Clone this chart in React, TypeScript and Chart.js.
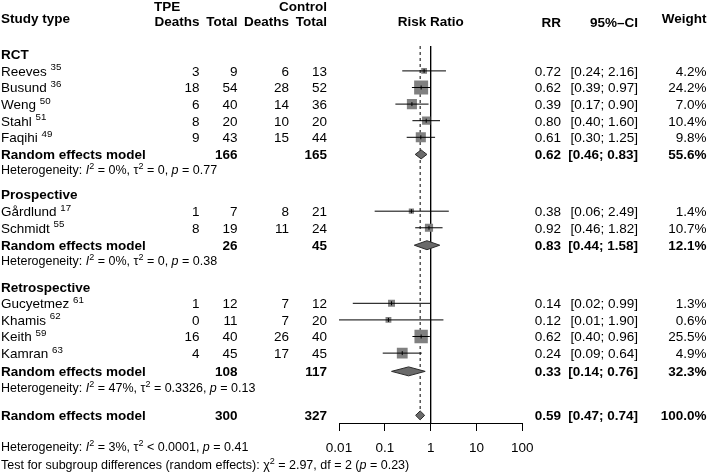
import React, { useEffect, useRef } from "react";
import { Chart, registerables } from "chart.js";
Chart.register(...registerables);

// ---------------- DATA ----------------
const studyNames = ["Reeves", "Busund", "Weng", "Stahl", "Faqihi", "Gårdlund", "Schmidt", "Gucyetmez", "Khamis", "Keith", "Kamran"];
const studyRefs = ["35", "36", "50", "51", "49", "17", "55", "61", "62", "59", "63"];
const tpeDeaths = [3, 18, 6, 8, 9, 1, 8, 1, 0, 16, 4];
const tpeTotal = [9, 54, 40, 20, 43, 7, 19, 12, 11, 40, 45];
const ctrlDeaths = [6, 28, 14, 10, 15, 8, 11, 7, 7, 26, 17];
const ctrlTotal = [13, 52, 36, 20, 44, 21, 24, 12, 20, 40, 45];
const studyRR = [0.72, 0.62, 0.39, 0.8, 0.61, 0.38, 0.92, 0.14, 0.12, 0.62, 0.24];
const studyLower = [0.24, 0.39, 0.17, 0.4, 0.3, 0.06, 0.46, 0.02, 0.01, 0.4, 0.09];
const studyUpper = [2.16, 0.97, 0.9, 1.6, 1.25, 2.49, 1.82, 0.99, 1.9, 0.96, 0.64];
const studyWeight = [4.2, 24.2, 7.0, 10.4, 9.8, 1.4, 10.7, 1.3, 0.6, 25.5, 4.9];

const groupNames = ["RCT", "Prospective", "Retrospective"];
const groupTpeTotal = [166, 26, 108];
const groupCtrlTotal = [165, 45, 117];
const groupRR = [0.62, 0.83, 0.33];
const groupLower = [0.46, 0.44, 0.14];
const groupUpper = [0.83, 1.58, 0.76];
const groupWeight = [55.6, 12.1, 32.3];
const groupI2 = ["0%", "0%", "47%"];
const groupTau2 = ["= 0", "= 0", "= 0.3326"];
const groupP = ["0.77", "0.38", "0.13"];

const overallTpeTotal = 300;
const overallCtrlTotal = 327;
const overallRR = 0.59;
const overallLower = 0.47;
const overallUpper = 0.74;
const overallWeight = 100.0;
const overallI2 = "3%";
const overallTau2 = "< 0.0001";
const overallP = "0.41";
const testChi2 = "2.97";
const testDf = "2";
const testP = "0.23";

const axisTicks = [0.01, 0.1, 1, 10, 100];
const axisTickLabels = ["0.01", "0.1", "1", "10", "100"];

// ---------------- LAYOUT (row units) ----------------
const Y_MIN = -0.5;
const Y_MAX = 22.21;
const groupLabelRow = [0, 8.45, 14];
const studyRow = [1, 2, 3, 4, 5, 9.45, 10.45, 15, 16, 17, 18];
const groupModelRow = [6.03, 11.5, 19.1];
const groupHetRow = [6.92, 12.45, 20.05];
const overallRow = 21.75;
const overallHetRow = 23.65;
const testRow = 24.72;
const headerTopRow = -2.9;
const headerBottomRow = -2.0;
const headerMidRow = -2.15;
const DIAMOND_HALF = 0.27;
const MAX_SQUARE = 14;

const COL_LABEL = 1;
const COL_TPE_D = 199.5;
const COL_TPE_T = 237.5;
const COL_CTL_D = 289;
const COL_CTL_T = 327;
const COL_RR = 561;
const COL_CI = 638;
const COL_W = 706.5;
const FONT_MAIN = 13.5;
const FONT_HET = 12.5;
const FAMILY = '"Liberation Sans", Arial, Helvetica, sans-serif';

const SQUARE_COLOR = "#808080";
const DIAMOND_COLOR = "#6a6a6a";

function fontStr(size: number, bold?: boolean, italic?: boolean) {
  return `${italic ? "italic " : ""}${bold ? "bold " : ""}${size}px ${FAMILY}`;
}

type Seg = { t: string; i?: boolean; b?: boolean; sup?: boolean };

function drawRich(ctx: CanvasRenderingContext2D, x: number, yc: number, segs: Seg[], size: number, align: "left" | "right" | "center" = "left") {
  ctx.textAlign = "left";
  ctx.textBaseline = "alphabetic";
  const widths = segs.map((s) => {
    ctx.font = fontStr(s.sup ? size * 0.72 : size, s.b, s.i);
    return ctx.measureText(s.t).width;
  });
  const total = widths.reduce((a, b) => a + b, 0);
  let cx = align === "left" ? x : align === "right" ? x - total : x - total / 2;
  const base = yc + size * 0.36;
  segs.forEach((s, k) => {
    ctx.font = fontStr(s.sup ? size * 0.72 : size, s.b, s.i);
    ctx.fillText(s.t, cx, s.sup ? base - size * 0.4 : base);
    cx += widths[k];
  });
}

const fmtCI = (lo: number, hi: number) => `[${lo.toFixed(2)}; ${hi.toFixed(2)}]`;

// Mantel-Haenszel (common effect) weights, used for the square sizes
const mhWeight = ctrlDeaths.map((c, i) => (c * tpeTotal[i]) / (tpeTotal[i] + ctrlTotal[i]));
const mhMax = Math.max(...mhWeight);

const textPlugin = {
  id: "forestText",
  afterDraw(chart: any) {
    const ctx: CanvasRenderingContext2D = chart.ctx;
    const ys = chart.scales.y;
    const py = (r: number) => ys.getPixelForValue(r);
    ctx.save();
    ctx.fillStyle = "#000";
    const t = (s: string, x: number, r: number, align: "left" | "right" | "center", bold = false, size = FONT_MAIN) =>
      drawRich(ctx, x, py(r), [{ t: s, b: bold }], size, align);

    // headers
    t("Study type", COL_LABEL, headerMidRow, "left", true);
    t("TPE", 154, headerTopRow, "left", true);
    t("Control", COL_CTL_T, headerTopRow, "right", true);
    t("Deaths", COL_TPE_D, headerBottomRow, "right", true);
    t("Total", COL_TPE_T, headerBottomRow, "right", true);
    t("Deaths", COL_CTL_D, headerBottomRow, "right", true);
    t("Total", COL_CTL_T, headerBottomRow, "right", true);
    const xs = chart.scales.x;
    t("Risk Ratio", (xs.left + xs.right) / 2, headerBottomRow, "center", true);
    t("RR", COL_RR, headerBottomRow + 0.05, "right", true);
    t("95%\u2013CI", COL_CI, headerBottomRow + 0.05, "right", true);
    t("Weight", COL_W, headerMidRow, "right", true);

    // groups
    groupNames.forEach((g, gi) => {
      t(g, COL_LABEL, groupLabelRow[gi], "left", true);
      const r = groupModelRow[gi];
      t("Random effects model", COL_LABEL, r, "left", true);
      t(String(groupTpeTotal[gi]), COL_TPE_T, r, "right", true);
      t(String(groupCtrlTotal[gi]), COL_CTL_T, r, "right", true);
      t(groupRR[gi].toFixed(2), COL_RR, r, "right", true);
      t(fmtCI(groupLower[gi], groupUpper[gi]), COL_CI, r, "right", true);
      t(groupWeight[gi].toFixed(1) + "%", COL_W, r, "right", true);
      drawRich(ctx, COL_LABEL, py(groupHetRow[gi]), [
        { t: "Heterogeneity: " },
        { t: "I", i: true },
        { t: "2", sup: true },
        { t: ` = ${groupI2[gi]}, \u03c4` },
        { t: "2", sup: true },
        { t: ` ${groupTau2[gi]}, ` },
        { t: "p", i: true },
        { t: ` = ${groupP[gi]}` },
      ], FONT_HET);
    });

    // studies
    studyNames.forEach((n, i) => {
      const r = studyRow[i];
      drawRich(ctx, COL_LABEL, py(r), [{ t: n + " " }, { t: studyRefs[i], sup: true }], FONT_MAIN);
      t(String(tpeDeaths[i]), COL_TPE_D, r, "right");
      t(String(tpeTotal[i]), COL_TPE_T, r, "right");
      t(String(ctrlDeaths[i]), COL_CTL_D, r, "right");
      t(String(ctrlTotal[i]), COL_CTL_T, r, "right");
      t(studyRR[i].toFixed(2), COL_RR, r, "right");
      t(fmtCI(studyLower[i], studyUpper[i]), COL_CI, r, "right");
      t(studyWeight[i].toFixed(1) + "%", COL_W, r, "right");
    });

    // overall
    t("Random effects model", COL_LABEL, overallRow, "left", true);
    t(String(overallTpeTotal), COL_TPE_T, overallRow, "right", true);
    t(String(overallCtrlTotal), COL_CTL_T, overallRow, "right", true);
    t(overallRR.toFixed(2), COL_RR, overallRow, "right", true);
    t(fmtCI(overallLower, overallUpper), COL_CI, overallRow, "right", true);
    t(overallWeight.toFixed(1) + "%", COL_W, overallRow, "right", true);
    drawRich(ctx, COL_LABEL, py(overallHetRow), [
      { t: "Heterogeneity: " },
      { t: "I", i: true },
      { t: "2", sup: true },
      { t: ` = ${overallI2}, \u03c4` },
      { t: "2", sup: true },
      { t: ` ${overallTau2}, ` },
      { t: "p", i: true },
      { t: ` = ${overallP}` },
    ], FONT_HET);
    drawRich(ctx, COL_LABEL, py(testRow), [
      { t: "Test for subgroup differences (random effects): \u03c7" },
      { t: "2", sup: true },
      { t: ` = ${testChi2}, df = ${testDf} (` },
      { t: "p", i: true },
      { t: ` = ${testP})` },
    ], FONT_HET);
    ctx.restore();
  },
};

export default function App() {
  const ref = useRef<HTMLCanvasElement>(null);
  useEffect(() => {
    const squares = studyRR.map((v, i) => ({ x: v, y: studyRow[i] }));
    const ciLines: any[] = [];
    studyRR.forEach((_, i) => {
      ciLines.push({ x: studyLower[i], y: studyRow[i] });
      ciLines.push({ x: studyUpper[i], y: studyRow[i] });
      ciLines.push({ x: 1, y: null });
    });
    const diamond = (lo: number, est: number, hi: number, r: number) => ({
      type: "scatter",
      data: [
        { x: lo, y: r },
        { x: est, y: r - DIAMOND_HALF },
        { x: hi, y: r },
        { x: est, y: r + DIAMOND_HALF },
        { x: lo, y: r },
      ],
      showLine: true,
      fill: "shape",
      backgroundColor: DIAMOND_COLOR,
      borderColor: "#2a2a2a",
      borderWidth: 1,
      pointRadius: 0,
      tension: 0,
      order: 2,
    });
    const diamonds = groupRR.map((v, gi) => diamond(groupLower[gi], v, groupUpper[gi], groupModelRow[gi]));
    diamonds.push(diamond(overallLower, overallRR, overallUpper, overallRow));

    const chart = new Chart(ref.current!, {
      type: "scatter",
      data: {
        datasets: [
          {
            data: [{ x: 1, y: Y_MIN }, { x: 1, y: Y_MAX }],
            showLine: true,
            borderColor: "#000",
            borderWidth: 1,
            pointRadius: 0,
            order: 6,
          },
          {
            data: [{ x: overallRR, y: Y_MIN }, { x: overallRR, y: overallRow - DIAMOND_HALF }],
            showLine: true,
            borderColor: "#000",
            borderWidth: 1,
            borderDash: [3, 3],
            pointRadius: 0,
            order: 5,
          },
          {
            data: squares,
            pointStyle: "rect",
            pointRadius: mhWeight.map((w) => (MAX_SQUARE * Math.sqrt(w / mhMax)) / Math.SQRT2),
            backgroundColor: SQUARE_COLOR,
            borderWidth: 0,
            order: 4,
          },
          {
            data: ciLines,
            showLine: true,
            spanGaps: false,
            borderColor: "#000",
            borderWidth: 1,
            pointRadius: 0,
            order: 3,
          },
          {
            data: squares,
            pointStyle: "line",
            rotation: 90,
            pointRadius: 2,
            borderColor: "#000",
            borderWidth: 1,
            order: 1,
          },
          ...diamonds,
        ] as any,
      },
      options: {
        responsive: false,
        devicePixelRatio: 1,
        animation: false,
        events: [],
        layout: { padding: { left: 339, right: 185.7, top: 46, bottom: 0 } },
        plugins: { legend: { display: false }, tooltip: { enabled: false } },
        scales: {
          x: {
            type: "logarithmic",
            min: 0.01,
            max: 100,
            position: "bottom",
            afterBuildTicks: (scale: any) => {
              scale.ticks = axisTicks.map((v) => ({ value: v }));
            },
            afterFit: (scale: any) => {
              scale.height = 50;
            },
            ticks: {
              autoSkip: false,
              maxRotation: 0,
              padding: 9,
              color: "#000",
              font: { size: FONT_MAIN, family: FAMILY },
              callback: (v: any) => {
                const k = axisTicks.indexOf(Number(v));
                return k >= 0 ? axisTickLabels[k] : "";
              },
            },
            grid: { drawOnChartArea: false, drawTicks: true, tickLength: 8, color: "#000", lineWidth: 1 },
            border: { display: true, color: "#000", width: 1 },
          },
          y: {
            type: "linear",
            display: false,
            reverse: true,
            min: Y_MIN,
            max: Y_MAX,
          },
        },
      } as any,
      plugins: [textPlugin],
    });
    return () => chart.destroy();
  }, []);
  return (
    <div style={{ position: "fixed", left: 0, top: 0, width: 708, height: 473, background: "#fff" }}>
      <canvas ref={ref} width={708} height={473} style={{ display: "block", width: 708, height: 473 }} />
    </div>
  );
}
